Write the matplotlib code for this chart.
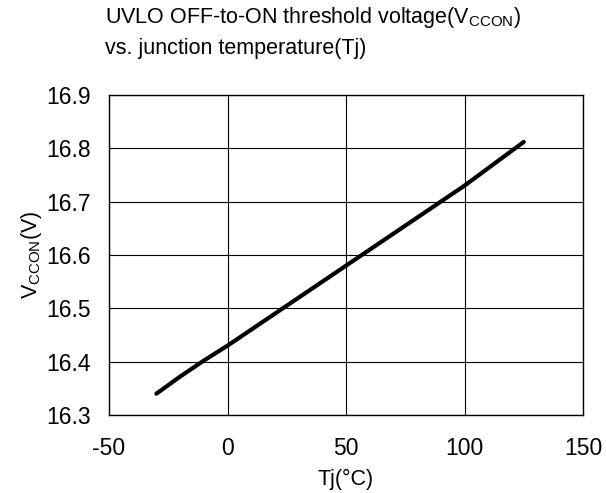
import matplotlib
matplotlib.use("Agg")
import matplotlib.pyplot as plt

plt.rcParams["font.family"] = ["Liberation Sans", "DejaVu Sans"]
plt.rcParams["mathtext.fontset"] = "custom"
plt.rcParams["mathtext.rm"] = "Liberation Sans"
plt.rcParams["axes.unicode_minus"] = False

# values
tj = [-30, -20, -10, 0, 25, 50, 75, 100, 125]
vccon = [16.340, 16.372, 16.402, 16.430, 16.505, 16.580, 16.655, 16.730, 16.812]
xticks = [-50, 0, 50, 100, 150]
yticks = [16.3, 16.4, 16.5, 16.6, 16.7, 16.8, 16.9]

fig = plt.figure(figsize=(6.06, 4.93), dpi=100)
ax = fig.add_axes([109 / 606, 1 - 415 / 493, 474 / 606, 320 / 493])

ax.plot(tj, vccon, color="black", lw=3.0, solid_capstyle="round")

ax.set_xlim(-50, 150)
ax.set_ylim(16.3, 16.9)
ax.set_xticks(xticks)
ax.set_yticks(yticks)
ax.set_yticklabels([f"{v:.1f}" for v in yticks])
ax.grid(True, color="black", lw=0.8)
ax.tick_params(length=0, labelsize=16.5)
ax.tick_params(axis="y", pad=13)
ax.tick_params(axis="x", pad=16)
for s in ax.spines.values():
    s.set_linewidth(1.0)

ax.set_xlabel("Tj(°C)", fontsize=15.5, labelpad=6)
ax.set_ylabel(r"V$\mathregular{_{CCON}}$(V)", fontsize=15.5, labelpad=2)

fig.text(0.173, 1 - 5 / 493,
         "UVLO OFF-to-ON threshold voltage(V$\\mathregular{_{CCON}}$)\nvs. junction temperature(Tj)",
         fontsize=15.5, va="top", ha="left", linespacing=1.5)

fig.savefig("out.png", dpi=100)
plt.close()
